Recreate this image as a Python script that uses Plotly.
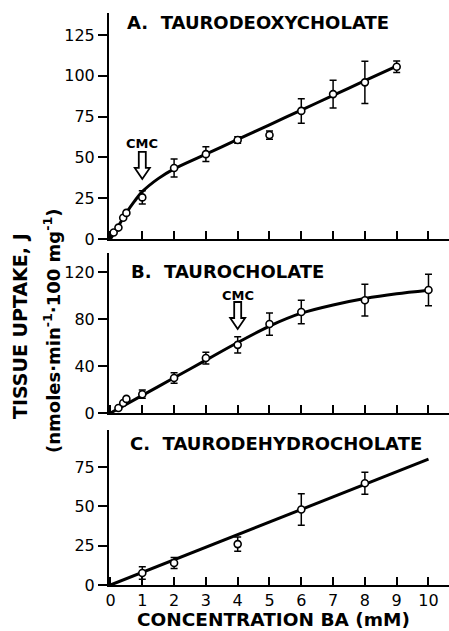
import plotly.graph_objects as go

# ---------------- data ----------------
# Panel A: Taurodeoxycholate
a_x = [0.1, 0.25, 0.4, 0.5, 1, 2, 3, 4, 5, 6, 7, 8, 9]
a_y = [4, 7, 13, 16, 25.5, 43.5, 52, 60.7, 63.7, 78.5, 88.8, 96, 105.6]
a_err = [0, 0, 0, 0, 4, 5.5, 4.5, 2, 2.5, 7.5, 8.5, 13, 3.5]
a_fit_x = [0, 0.25, 0.5, 0.75, 1, 1.5, 2, 3, 4, 5, 6, 7, 8, 9]
a_fit_y = [0, 8, 16, 23, 29, 37, 43, 52, 61, 70, 79, 88, 97, 106]
a_cmc = 1

# Panel B: Taurocholate
b_x = [0.25, 0.4, 0.5, 1, 2, 3, 4, 5, 6, 8, 10]
b_y = [4.3, 8.5, 12, 16, 29.8, 46.8, 58, 75.7, 86, 96, 104.7]
b_err = [0, 0, 0, 3.5, 4.5, 5, 7, 9.5, 10, 13.5, 13.5]
b_fit_x = [0, 1, 2, 3, 4, 5, 6, 7, 8, 9, 10]
b_fit_y = [0, 15, 30, 45, 60, 74, 85, 92, 97.5, 101.5, 104.5]
b_cmc = 4

# Panel C: Taurodehydrocholate
c_x = [1, 2, 4, 6, 8]
c_y = [7.6, 14, 26, 48, 64.7]
c_err = [4, 3.5, 4.5, 10, 7]
c_fit_x = [0, 10]
c_fit_y = [0, 80]

x_ticks = list(range(0, 11))
a_yticks = [0, 25, 50, 75, 100, 125]
b_yticks = [0, 40, 80, 120]
c_yticks = [0, 25, 50, 75]

titles = ["A.\u00a0\u00a0TAURODEOXYCHOLATE",
          "B.\u00a0\u00a0TAUROCHOLATE",
          "C.\u00a0\u00a0TAURODEHYDROCHOLATE"]

# ---------------- figure ----------------
W, H = 449, 631
FONT = "DejaVu Sans"
fig = go.Figure()

panels = [
    (a_x, a_y, a_err, a_fit_x, a_fit_y, "x", "y"),
    (b_x, b_y, b_err, b_fit_x, b_fit_y, "x2", "y2"),
    (c_x, c_y, c_err, c_fit_x, c_fit_y, "x3", "y3"),
]
for px, py, pe, fx, fy, xa, ya in panels:
    fig.add_trace(go.Scatter(x=fx, y=fy, mode="lines",
                             line=dict(color="black", width=3, shape="spline", smoothing=0.8),
                             xaxis=xa, yaxis=ya, showlegend=False, hoverinfo="skip", cliponaxis=False))
    fig.add_trace(go.Scatter(x=px, y=py, mode="markers",
                             marker=dict(symbol="circle", size=7, color="white", line=dict(color="black", width=1.6)),
                             error_y=dict(type="data", array=pe, color="black", thickness=1.5, width=3.5, visible=True),
                             xaxis=xa, yaxis=ya, showlegend=False, cliponaxis=False))

def ypx(p):
    return (H - p) / H

def xpx(p):
    return (p - 109) / (W - 109)

xrange_ = [-0.047, 10.645]
domains = {
    "y": [ypx(239), ypx(13)],
    "y2": [ypx(413), ypx(253)],
    "y3": [ypx(585), ypx(430)],
}
yranges = {"y": [0, 138.5], "y2": [0, 136.2], "y3": [0, 98.5]}
yticks = {"y": a_yticks, "y2": b_yticks, "y3": c_yticks}

tickfont = dict(family=FONT, size=16, color="black")
common_x = dict(range=xrange_, showline=True, linecolor="black", linewidth=2, ticks="inside", ticklen=8,
                tickwidth=2, tickcolor="black", tickvals=x_ticks, showgrid=False, zeroline=False,
                automargin=False, fixedrange=True, tickfont=tickfont)
common_y = dict(showline=True, linecolor="black", linewidth=2, ticks="outside", ticklen=9, tickwidth=2,
                tickcolor="black", showgrid=False, zeroline=False, automargin=False, fixedrange=True,
                tickfont=tickfont)

fig.update_layout(
    width=W, height=H, margin=dict(l=109, r=0, t=0, b=0),
    plot_bgcolor="white", paper_bgcolor="white", template=None,
    font=dict(family=FONT, color="black"),
    xaxis=dict(anchor="y", showticklabels=False, **common_x),
    xaxis2=dict(anchor="y2", showticklabels=False, **common_x),
    xaxis3=dict(anchor="y3", showticklabels=True, **common_x),
    yaxis=dict(anchor="x", domain=domains["y"], range=yranges["y"], tickvals=yticks["y"], **common_y),
    yaxis2=dict(anchor="x2", domain=domains["y2"], range=yranges["y2"], tickvals=yticks["y2"], **common_y),
    yaxis3=dict(anchor="x3", domain=domains["y3"], range=yranges["y3"], tickvals=yticks["y3"], **common_y),
)

# panel titles
for t, (lx, cy) in zip(titles, [(125, 22), (129, 271), (128, 443)]):
    fig.add_annotation(text="<b>" + t + "</b>", xref="paper", yref="paper", x=xpx(lx), y=ypx(cy),
                       xanchor="left", yanchor="middle", showarrow=False,
                       font=dict(family=FONT, size=18, color="black"))

# CMC markers: label + hollow down arrow (pixel-sized shape anchored at data point)
arrow_path = "M0,0 L-7.5,11 L-3.5,11 L-3.5,27 L3.5,27 L3.5,11 L7.5,11 Z"
for cmc, xa, ya, ty, tip in [(a_cmc, "x", "y", 58.8, 36.8), (b_cmc, "x2", "y2", 100.4, 71.5)]:
    fig.add_annotation(text="<b>CMC</b>", xref=xa, yref=ya, x=cmc, y=ty, showarrow=False,
                       xanchor="center", yanchor="middle",
                       font=dict(family=FONT, size=13, color="black"))
    fig.add_shape(type="path", xref=xa, yref=ya, xsizemode="pixel", ysizemode="pixel",
                  xanchor=cmc, yanchor=tip, path=arrow_path,
                  line=dict(color="black", width=1.8), fillcolor="white", layer="above")

# axis titles
fig.add_annotation(text="<b>TISSUE UPTAKE, J</b>", xref="paper", yref="paper", x=xpx(20), y=ypx(326),
                   xanchor="center", yanchor="middle",
                   textangle=-90, showarrow=False, font=dict(family=FONT, size=19, color="black"))
fig.add_annotation(text="<b>(nmoles·min<sup>-1</sup>·100 mg<sup>-1</sup>)</b>", xref="paper", yref="paper",
                   x=xpx(52), y=ypx(331), xanchor="center", yanchor="middle", textangle=-90, showarrow=False,
                   font=dict(family=FONT, size=18, color="black"))
fig.add_annotation(text="<b>CONCENTRATION BA (mM)</b>", xref="paper", yref="paper", x=xpx(273), y=0,
                   xanchor="center", yanchor="bottom", borderpad=0,
                   showarrow=False, font=dict(family=FONT, size=18.5, color="black"))

fig.write_html("out.html", config={"displayModeBar": False},
               post_script="document.body.style.margin='0';document.body.style.overflow='hidden';")
